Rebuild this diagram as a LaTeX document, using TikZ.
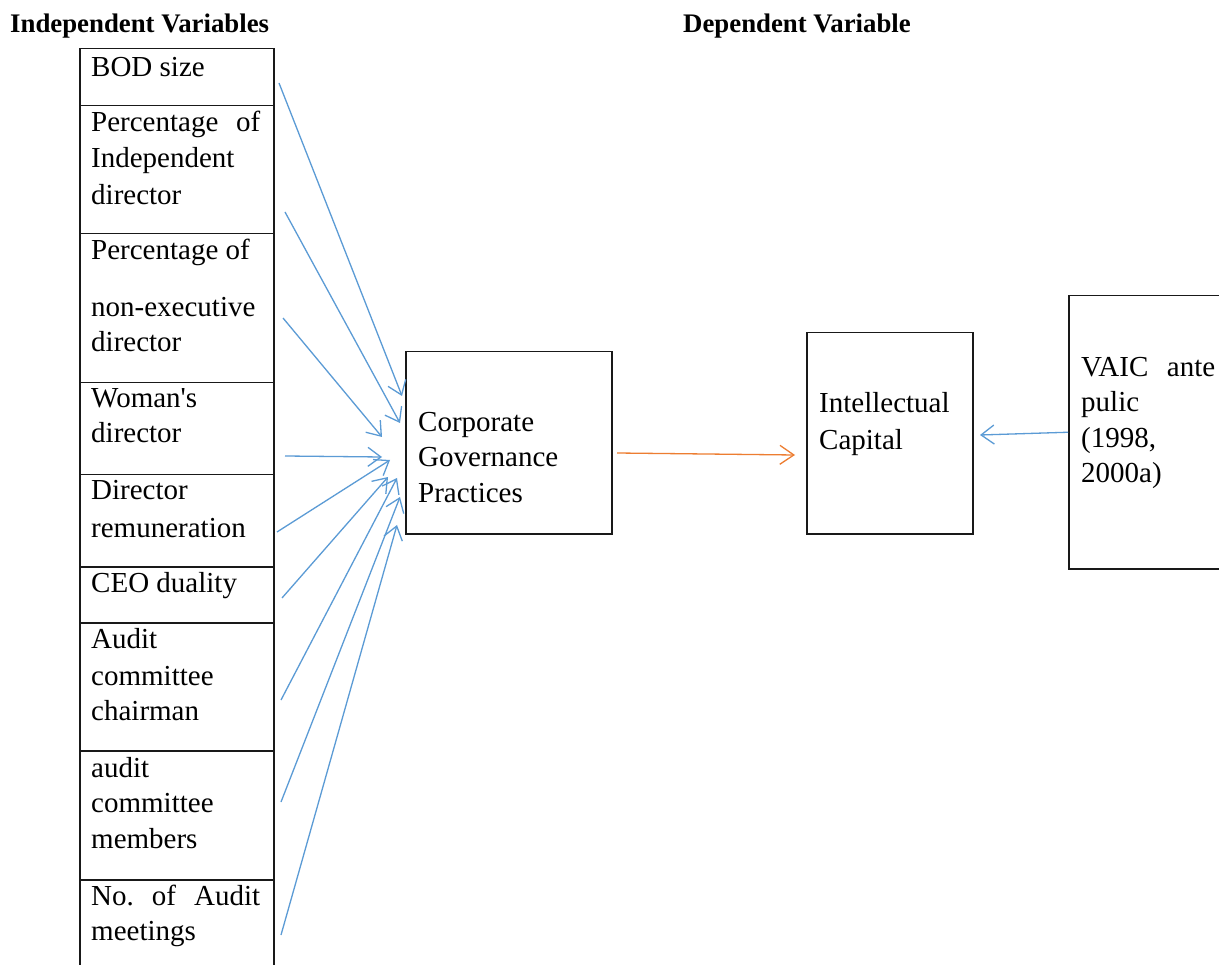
\documentclass[tikz,border=0pt]{standalone}
\usepackage{fontspec}
\setmainfont{Liberation Serif}
\usetikzlibrary{arrows.meta}
\definecolor{arrblue}{HTML}{5B9BD5}
\definecolor{arrorange}{HTML}{ED7D31}
\tikzset{
  box/.style={draw=black!90, line width=1.5pt, anchor=north west, inner sep=0pt},
  txt/.style={anchor=base west, inner sep=0pt, font=\fontsize{29}{36}\selectfont},
  head/.style={anchor=base west, inner sep=0pt, font=\fontsize{26.8}{30}\selectfont\bfseries},
  conn/.style={arrblue, line width=1.3pt, -{Straight Barb[length=13pt,width=19pt]}},
  connor/.style={arrorange, line width=1.3pt, -{Straight Barb[length=14pt,width=19pt]}}
}
\begin{document}
\begin{tikzpicture}[x=1pt,y=-1pt]
\clip (0,0) rectangle (1219,965);
\fill[white] (0,0) rectangle (1219,965);
% headings
\node[head] (hind) at (10,33) {Independent Variables};
\node[head] (hdep) at (683,33) {Dependent Variable};
% left column boxes
\node[box, minimum width=194pt, minimum height=57pt] (r1) at (79,48) {};
\node[box, minimum width=194pt, minimum height=128pt] (r2) at (79,105) {};
\node[box, minimum width=194pt, minimum height=149pt] (r3) at (79,233) {};
\node[box, minimum width=194pt, minimum height=92pt] (r4) at (79,382) {};
\node[box, minimum width=194pt, minimum height=92pt] (r5) at (79,474) {};
\node[box, minimum width=194pt, minimum height=56pt] (r6) at (79,566) {};
\node[box, minimum width=194pt, minimum height=128pt] (r7) at (79,622) {};
\node[box, minimum width=194pt, minimum height=129pt] (r8) at (79,750) {};
\node[box, minimum width=194pt, minimum height=100pt] (r9) at (79,879) {};
% left column texts
\node[txt] (t1a) at (91,77) {BOD size};
\node[txt] (t2a) at (91,132) {\makebox[169pt][l]{Percentage\hfill of}};
\node[txt] (t2b) at (91,168) {Independent};
\node[txt] (t2c) at (91,205) {director};
\node[txt] (t3a) at (91,260) {Percentage of};
\node[txt] (t3b) at (91,317) {non-executive};
\node[txt] (t3c) at (91,352) {director};
\node[txt] (t4a) at (91,408) {Woman\textquotesingle s};
\node[txt] (t4b) at (91,443) {director};
\node[txt] (t5a) at (91,500) {Director};
\node[txt] (t5b) at (91,537) {remuneration};
\node[txt] (t6a) at (91,592) {CEO duality};
\node[txt] (t7a) at (91,648) {Audit};
\node[txt] (t7b) at (91,685) {committee};
\node[txt] (t7c) at (91,720) {chairman};
\node[txt] (t8a) at (91,777) {audit};
\node[txt] (t8b) at (91,812) {committee};
\node[txt] (t8c) at (91,848) {members};
\node[txt] (t9a) at (91,905) {\makebox[169pt][l]{No.\hfill of\hfill Audit}};
\node[txt] (t9b) at (91,940) {meetings};
% middle and right boxes
\node[box, minimum width=206pt, minimum height=182pt] (cgp) at (405,351) {};
\node[txt] (cga) at (418,432) {Corporate};
\node[txt] (cgb) at (418,467) {Governance};
\node[txt] (cgc) at (418,503) {Practices};
\node[box, minimum width=166pt, minimum height=201pt] (ic) at (806,332) {};
\node[txt] (ica) at (819,413) {Intellectual};
\node[txt] (icb) at (819,450) {Capital};
\node[box, minimum width=170pt, minimum height=273pt] (vaic) at (1068,295) {};
\node[txt] (va) at (1081,377) {\makebox[134pt][l]{VAIC\hfill ante}};
\node[txt] (vb) at (1081,412) {pulic};
\node[txt] (vc) at (1081,448) {(1998,};
\node[txt] (vd) at (1081,483) {2000a)};
% connector end points
\coordinate (s1) at (279,83);  \coordinate (e1) at (402,396);
\coordinate (s2) at (285,212); \coordinate (e2) at (400,423);
\coordinate (s3) at (283,318); \coordinate (e3) at (382,437);
\coordinate (s4) at (285,456); \coordinate (e4) at (382,457);
\coordinate (s5) at (277,532); \coordinate (e5) at (390,460);
\coordinate (s6) at (282,598); \coordinate (e6) at (388,477);
\coordinate (s7) at (281,700); \coordinate (e7) at (397,478);
\coordinate (s8) at (281,802); \coordinate (e8) at (400,497);
\coordinate (s9) at (281,935); \coordinate (e9) at (397,525);
\coordinate (os) at (617,453); \coordinate (oe) at (795,455);
\coordinate (ve) at (980,435);
\foreach \i in {1,...,9} { \draw[conn] (s\i) -- (e\i); }
\draw[connor] (os) -- (oe);
\draw[conn] (vaic.west) -- (ve);
\end{tikzpicture}
\end{document}
